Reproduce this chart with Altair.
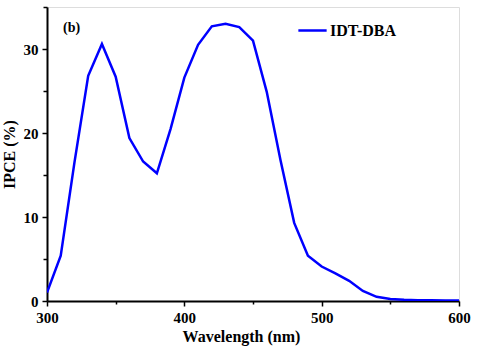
import altair as alt
import pandas as pd

wavelength = [300, 310, 320, 330, 340, 350, 360, 370, 380, 390, 400, 410, 420, 430,
              440, 450, 460, 470, 480, 490, 500, 510, 520, 530, 540, 550, 560, 570,
              580, 590, 600]
ipce = [1.0, 5.4, 16.5, 26.8, 30.6, 26.7, 19.4, 16.6, 15.2, 20.5, 26.6, 30.5, 32.7, 33.0,
        32.6, 31.0, 24.9, 16.8, 9.3, 5.4, 4.1, 3.3, 2.4, 1.2, 0.5, 0.25, 0.15, 0.1,
        0.08, 0.05, 0.05]
series = ["IDT-DBA"] * len(wavelength)
x_ticks = [300, 350, 400, 450, 500, 550, 600]
y_ticks = [0, 5, 10, 15, 20, 25, 30, 35]

df = pd.DataFrame({"Wavelength": wavelength, "IPCE": ipce, "Series": series})

FONT = "Times New Roman, Liberation Serif, DejaVu Serif, serif"

line = alt.Chart(df).mark_line(strokeWidth=2.5, clip=True).encode(
    x=alt.X("Wavelength:Q",
            scale=alt.Scale(domain=[300, 600], nice=False, zero=False),
            axis=alt.Axis(values=x_ticks, title="Wavelength (nm)",
                          labelExpr="datum.value % 100 === 0 ? datum.label : ''",
                          format="d", grid=False, labelFlush=False,
                          domainColor="black", domainWidth=2,
                          tickColor="black", tickWidth=1.5,
                          tickSize={"condition": {"test": "datum.value % 100 === 0", "value": 5}, "value": 3},
                          labelFont=FONT, labelFontSize=15, labelFontWeight="bold", labelColor="black",
                          labelPadding=4,
                          titleFont=FONT, titleFontSize=16, titleFontWeight="bold", titleColor="black",
                          titlePadding=3, titleX=194)),
    y=alt.Y("IPCE:Q",
            scale=alt.Scale(domain=[0, 35], nice=False),
            axis=alt.Axis(values=y_ticks, title="IPCE (%)",
                          labelExpr="datum.value % 10 === 0 ? datum.label : ''",
                          grid=False, labelFlush=False,
                          domainColor="black", domainWidth=2,
                          tickColor="black", tickWidth=1.5,
                          tickSize={"condition": {"test": "datum.value % 10 === 0", "value": 5}, "value": 4},
                          labelFont=FONT, labelFontSize=15, labelFontWeight="bold", labelColor="black",
                          labelPadding=4,
                          titleFont=FONT, titleFontSize=16, titleFontWeight="bold", titleColor="black",
                          titlePadding=6)),
    color=alt.Color("Series:N",
                    scale=alt.Scale(range=["#0000ff"]),
                    legend=alt.Legend(title=None, orient="none", legendX=250, legendY=8,
                                      symbolType="stroke", symbolSize=800, symbolStrokeWidth=2.5,
                                      labelFont=FONT, labelFontSize=16, labelFontWeight="bold",
                                      labelColor="black", labelOffset=2)),
)

label = alt.Chart(pd.DataFrame({"t": ["(b)"]})).mark_text(
    font=FONT, fontSize=14, fontWeight="bold", color="black", align="left", baseline="middle"
).encode(x=alt.value(16), y=alt.value(21), text="t:N")

chart = alt.layer(line, label).properties(
    width=412, height=294,
    autosize=alt.AutoSizeParams(type="none"),
    padding={"left": 47, "top": 7, "right": 21, "bottom": 45},
).configure_view(stroke="#999999", strokeWidth=1).configure(background="white")

chart.save("out.html", embed_options={"renderer": "svg", "actions": False})
